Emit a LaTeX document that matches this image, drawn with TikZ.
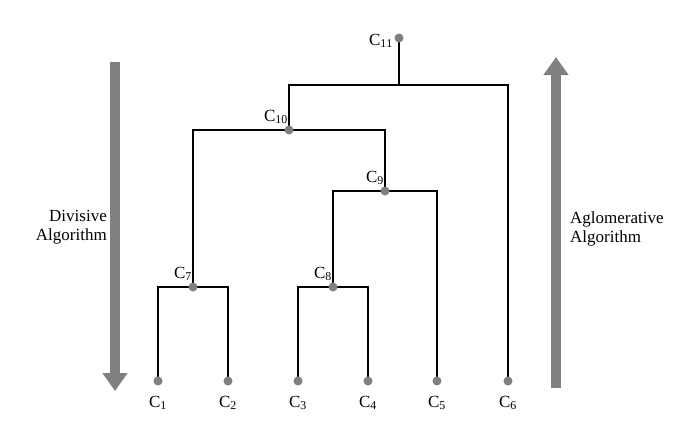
\documentclass[tikz,border=0pt]{standalone}
\usepackage{fontspec}
\setmainfont{Liberation Serif}
\usetikzlibrary{arrows.meta}
\begin{document}
\begin{tikzpicture}[x=1pt,y=-1pt,
  br/.style={line width=2.8pt},
  dot/.style={circle,fill=gray,inner sep=0pt,minimum size=9pt},
  lab/.style={font=\fontsize{17}{19}\selectfont,inner sep=1pt},
  bigarrow/.style={draw=gray,line width=10pt,-{Triangle[length=18pt,width=24pt]}}]
\useasboundingbox (0,0) rectangle (698,431);
\coordinate (c1) at (158,381); \coordinate (c2) at (228,381);
\coordinate (c3) at (298,381); \coordinate (c4) at (368,381);
\coordinate (c5) at (437,381); \coordinate (c6) at (508,381);
\coordinate (c7) at (193,287); \coordinate (c8) at (333,287);
\coordinate (c9) at (385,191); \coordinate (c10) at (289,130);
\coordinate (c11) at (399,38);
\draw[br] (c1) -- (158,287) -- (228,287) -- (c2);
\draw[br] (c3) -- (298,287) -- (368,287) -- (c4);
\draw[br] (c8) -- (333,191) -- (437,191) -- (c5);
\draw[br] (c7) -- (193,130) -- (385,130) -- (c9);
\draw[br] (c10) -- (289,85) -- (508,85) -- (c6);
\draw[br] (c11) -- (399,85);
\foreach \n in {1,...,11} \node[dot] (d\n) at (c\n) {};
\foreach \n/\x in {1/158,2/228,3/298,4/368,5/437,6/508}
  \node[lab] at (\x,403) {C$_{\mathrm{\n}}$};
\node[lab,anchor=south east] at (193,282) {C$_{\mathrm{7}}$};
\node[lab,anchor=south east] at (333,282) {C$_{\mathrm{8}}$};
\node[lab,anchor=south east] at (385,186) {C$_{\mathrm{9}}$};
\node[lab,anchor=south east] at (289,125) {C$_{\mathrm{10}}$};
\node[lab,anchor=east] at (394,41) {C$_{\mathrm{11}}$};
\draw[bigarrow] (115,62) -- (115,391);
\draw[bigarrow] (556,388) -- (556,57);
\node[lab,align=right,anchor=east] at (108,227) {Divisive\\Algorithm};
\node[lab,align=left,anchor=west] at (569,229) {Aglomerative\\Algorithm};
\end{tikzpicture}
\end{document}
